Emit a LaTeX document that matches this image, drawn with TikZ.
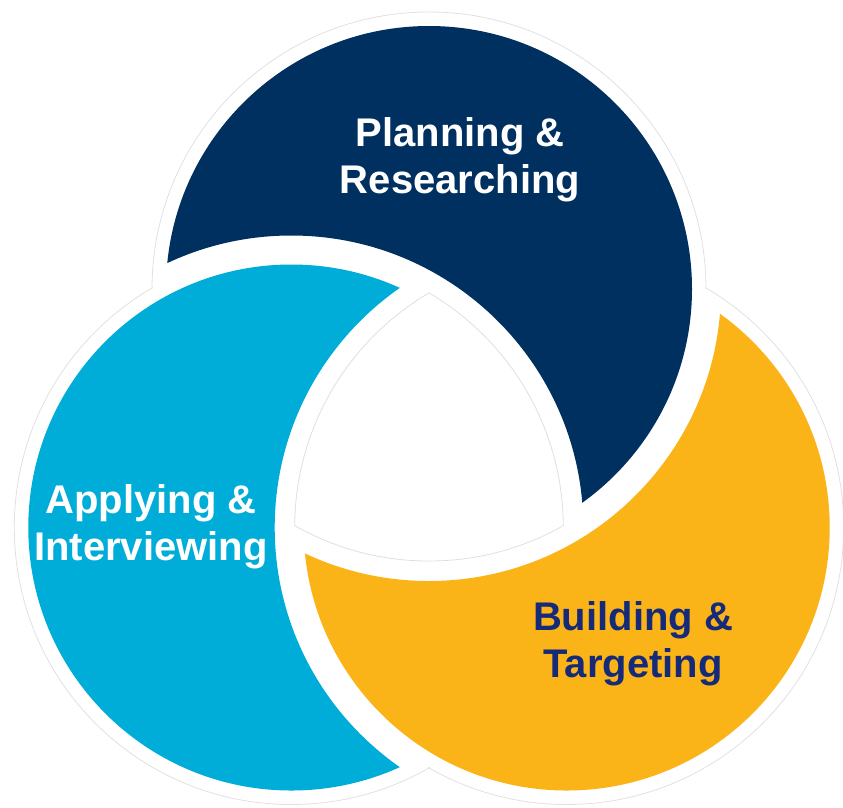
\documentclass[tikz,border=0pt]{standalone}
\usepackage{fontspec}
\setmainfont{Liberation Sans}
\definecolor{plannavy}{RGB}{0,48,96}
\definecolor{applyblue}{RGB}{0,173,216}
\definecolor{buildgold}{RGB}{251,180,24}
\definecolor{buildtext}{RGB}{22,42,122}

\begin{document}
\begin{tikzpicture}
    [x=1pt, y=-1pt,
    phase/.style={align=center, inner sep=0pt,
    font=\bfseries\fontsize{40}{47}\selectfont},
    faint/.style={draw=black!12, line width=0.8pt}]

    \useasboundingbox (0,0) rectangle (843,807);
    \coordinate (plan) at (429,289);
    \coordinate (apply) at (291.3,527.5);
    \coordinate (build) at (566.7,527.5);

    % soft outline round the three circles
    \foreach \cen in {plan,apply,build}
        \draw[faint] (\cen) circle (277pt);
    \foreach \cen in {plan,apply,build}
        \fill[white] (\cen) circle (276pt);

    % each circle less a ring round the next one
    \foreach \cen/\nxt/\col in {plan/apply/plannavy, apply/build/applyblue, build/plan/buildgold}
    {
        \begin{scope}
            \clip (\cen) circle (263pt);
            \fill[\col, even odd rule] (\nxt) circle (292pt) (0,0) rectangle (843,807);
        \end{scope}
    }

    % centre triangle
    \foreach \cen/\one/\two in {plan/apply/build, apply/build/plan, build/plan/apply}
    {
        \begin{scope}
            \clip (\one) circle (272pt);
            \clip (\two) circle (272pt);
            \draw[faint] (\cen) circle (272pt);
        \end{scope}
    }

    \node [phase, text=white] (planning) at (460,160) {Planning \&\\Researching};
    \node [phase, text=white] (applying) at (151,527) {Applying \&\\Interviewing};
    \node [phase, text=buildtext] (building) at (633,644) {Building \&\\Targeting};
\end{tikzpicture}
\end{document}
